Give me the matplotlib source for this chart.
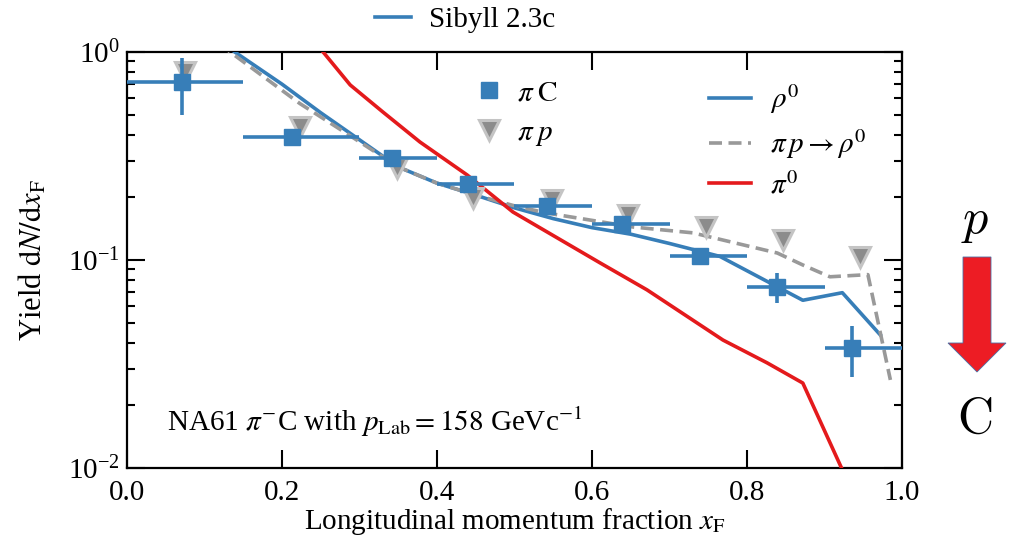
import matplotlib
matplotlib.use("Agg")
import matplotlib.pyplot as plt
from matplotlib.patches import FancyArrow
from matplotlib.lines import Line2D

# NA61 pi- C data (pi C), with bin edges
xf_piC = [0.071, 0.213, 0.342, 0.440, 0.542, 0.639, 0.739, 0.839, 0.935]
y_piC = [0.717, 0.39, 0.31, 0.232, 0.182, 0.149, 0.105, 0.0741, 0.0377]
yerr_piC = [0.22, 0.015, 0.012, 0.01, 0.008, 0.007, 0.006, 0.012, 0.0103]
bin_lo = [0.0, 0.15, 0.30, 0.40, 0.50, 0.60, 0.70, 0.80, 0.90]
bin_hi = [0.15, 0.30, 0.40, 0.50, 0.60, 0.70, 0.80, 0.90, 1.00]

# pi p reference data
xf_pip = [0.075, 0.223, 0.348, 0.446, 0.548, 0.646, 0.747, 0.846, 0.946]
y_pip = [0.80, 0.436, 0.277, 0.199, 0.195, 0.165, 0.144, 0.125, 0.103]

# Sibyll 2.3c predictions
xf_rho = [0.125, 0.139, 0.20, 0.25, 0.30, 0.35, 0.40, 0.45, 0.50, 0.55, 0.60,
          0.65, 0.70, 0.765, 0.872, 0.923, 0.972]
y_rho = [1.1, 1.0, 0.70, 0.51, 0.378, 0.28, 0.234, 0.205, 0.178, 0.158, 0.143,
         0.133, 0.12, 0.104, 0.064, 0.0696, 0.0436]

xf_pip_rho = [0.12, 0.133, 0.223, 0.30, 0.35, 0.40, 0.45, 0.50, 0.542, 0.60,
              0.653, 0.73, 0.839, 0.872, 0.907, 0.956, 0.985]
y_pip_rho = [1.1, 1.0, 0.565, 0.37, 0.28, 0.234, 0.205, 0.182, 0.168, 0.155,
             0.144, 0.135, 0.108, 0.0946, 0.083, 0.085, 0.0265]

xf_pi0 = [0.245, 0.253, 0.288, 0.330, 0.378, 0.439, 0.498, 0.61, 0.671,
          0.769, 0.826, 0.872, 0.923]
y_pi0 = [1.1, 1.0, 0.694, 0.515, 0.369, 0.256, 0.170, 0.097, 0.0718,
         0.0412, 0.032, 0.0256, 0.0098]

BLUE = "#377eb8"
RED = "#e41a1c"
GREY = "#999999"
FS = 21

plt.rcParams["font.family"] = ["Liberation Serif", "DejaVu Serif"]
plt.rcParams["mathtext.fontset"] = "stix"
plt.rcParams["font.size"] = FS

fig = plt.figure(figsize=(10.11, 5.41), dpi=100)
ax = fig.add_axes([0.1256, 0.135, 0.7666, 0.769])

ax.set_yscale("log")

l_rho, = ax.plot(xf_rho, y_rho, color=BLUE, lw=2.6, zorder=3)
l_pp, = ax.plot(xf_pip_rho, y_pip_rho, color=GREY, lw=2.6, ls=(0, (3.6, 1.8)), zorder=3)
l_pi0, = ax.plot(xf_pi0, y_pi0, color=RED, lw=2.6, zorder=3)

tri, = ax.plot(xf_pip, y_pip, ls="none", marker="v", ms=14,
               mfc="#8c8c8c", mec="#c4c4c4", mew=2.2, zorder=4)

xerr = [[c - lo for c, lo in zip(xf_piC, bin_lo)],
        [hi - c for c, hi in zip(xf_piC, bin_hi)]]
eb = ax.errorbar(xf_piC, y_piC, xerr=xerr, yerr=yerr_piC, fmt="s", ms=12,
                 color=BLUE, ecolor=BLUE, elinewidth=2.6, capsize=0, zorder=5)

ax.set_xlim(0.0, 1.0)
ax.set_ylim(1e-2, 1e0)
ax.set_xticks([0.0, 0.2, 0.4, 0.6, 0.8, 1.0])
ax.set_xticklabels(["0.0", "0.2", "0.4", "0.6", "0.8", "1.0"])
ax.tick_params(which="both", direction="in", top=True, right=True, width=1.5,
               labelsize=FS)
ax.tick_params(axis="x", pad=9)
ax.tick_params(axis="y", pad=5)
ax.tick_params(which="major", length=13)
ax.tick_params(which="minor", length=6)
for s in ax.spines.values():
    s.set_linewidth(1.6)

ax.set_xlabel(r"Longitudinal momentum fraction $x_\mathrm{F}$", fontsize=FS, labelpad=0)
ax.set_ylabel(r"Yield $\mathrm{d}N/\mathrm{d}x_\mathrm{F}$", fontsize=22, labelpad=14)

ax.text(0.052, 0.11, r"NA61 $\pi^{-}$C with $p_\mathrm{Lab} = 158$ GeVc$^{-1}$",
        transform=ax.transAxes, fontsize=FS, va="center", ha="left")

leg1 = ax.legend([eb.lines[0], tri], [r"$\pi\;\mathrm{C}$", r"$\pi\;p$"],
                 loc="upper left", bbox_to_anchor=(0.415, 0.995), frameon=False,
                 fontsize=FS, handlelength=1.0, labelspacing=0.45,
                 handletextpad=0.45)
ax.add_artist(leg1)
ax.legend([l_rho, l_pp, l_pi0],
          [r"$\rho^0$", r"$\pi\,p \rightarrow \rho^0$", r"$\pi^0$"],
          loc="upper left", bbox_to_anchor=(0.717, 0.99), frameon=False,
          fontsize=FS, handlelength=1.45, labelspacing=0.38, handletextpad=0.65)

fig.legend([Line2D([], [], color=BLUE, lw=2.6)], ["Sibyll 2.3c"],
           loc="center", bbox_to_anchor=(465 / 1011, 1 - 20 / 541),
           frameon=False, fontsize=FS, handlelength=1.25, handletextpad=0.6)

# projectile -> target arrow on the right
fig.text(975 / 1011, 1 - 222 / 541, r"$p$", fontsize=36, ha="center", va="center",
         math_fontfamily="cm")
fig.text(975 / 1011, 1 - 420 / 541, r"$\mathrm{C}$", fontsize=36, ha="center",
         va="center", math_fontfamily="cm")
arrow = FancyArrow(977 / 1011, 1 - 257 / 541, 0, -(372 - 257) / 541,
                   width=28 / 1011, head_width=58 / 1011,
                   head_length=29 / 541, length_includes_head=True,
                   transform=fig.transFigure, facecolor="#ed1c24",
                   edgecolor="#4a6fa5", linewidth=0.6)
fig.patches.append(arrow)

fig.savefig("out.png", dpi=100)
